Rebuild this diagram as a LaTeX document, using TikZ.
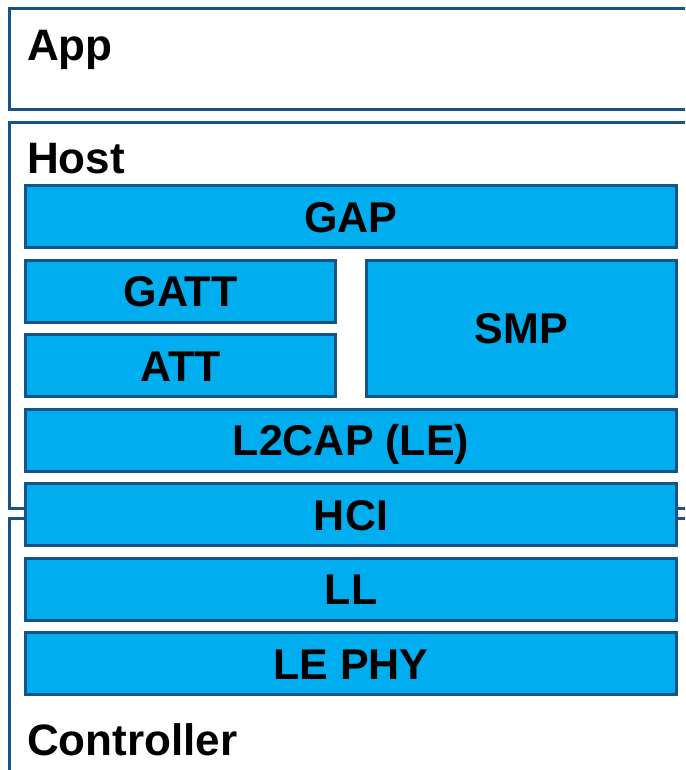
\documentclass[tikz,border=0pt]{standalone}
\usepackage{fontspec}
\setmainfont{Liberation Sans}
\definecolor{bleCeleste}{HTML}{00AEEF}
\definecolor{bleBorde}{HTML}{155389}
\usetikzlibrary{positioning}
\tikzset{
	marco/.style={
		draw=bleBorde,
		line width=3pt
	},
	etiqueta/.style={
		anchor=base west,
		inner sep=0pt,
		font=\fontsize{44}{52}\selectfont\bfseries
	},
	capa/.style={
		draw=bleBorde,
		line width=3pt,
		fill=bleCeleste,
		minimum height=62pt,
		inner sep=0pt,
		text height=31pt,
		text depth=0pt,
		font=\fontsize{43}{50}\selectfont\bfseries
	}
}

\begin{document}
\begin{tikzpicture}[x=1pt, y=-1pt, node distance=9.5pt]
	\useasboundingbox (0,0) rectangle (685,770);
	\clip (0,0) rectangle (685,770);
	% marcos App / Host / Controller
	\draw[marco] (9,9) rectangle (700,110);
	\draw[marco] (9,122.5) rectangle (700,508);
	\draw[marco] (9,518) rectangle (700,790);
	\node[etiqueta] (app) at (27,61) {App};
	\node[etiqueta] (host) at (27,174) {Host};
	\node[etiqueta] (ctrl) at (27,755) {Controller};
	% pila de capas
	\node[capa, minimum width=651pt] (gap) at (351,216.5) {GAP};
	\node[capa, minimum width=310pt, below=of gap.south west, anchor=north west] (gatt) {GATT};
	\node[capa, minimum width=310pt, below=of gatt] (att) {ATT};
	\node[capa, minimum width=310pt, minimum height=136.5pt, below=of gap.south east, anchor=north east] (smp) {SMP};
	\node[capa, minimum width=651pt, below=of att.south west, anchor=north west] (l2cap) {L2CAP (LE)};
	\node[capa, minimum width=651pt, below=of l2cap] (hci) {HCI};
	\node[capa, minimum width=651pt, below=of hci] (ll) {LL};
	\node[capa, minimum width=651pt, below=of ll] (phy) {LE PHY};
\end{tikzpicture}
\end{document}
